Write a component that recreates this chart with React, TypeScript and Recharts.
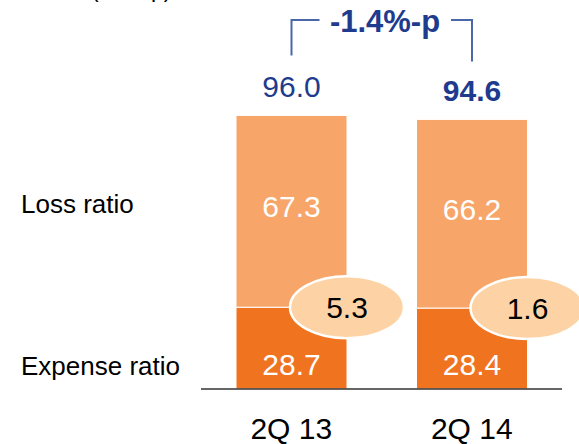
import { BarChart, Bar, XAxis, YAxis, LabelList } from 'recharts'

const quarters = ['2Q 13', '2Q 14']
const expenseRatio = [28.7, 28.4]
const lossRatio = [67.3, 66.2]
const otherEffect = [5.3, 1.6]
const combinedRatio = [96.0, 94.6]
const changeLabel = '-1.4%-p'
const seriesNames = ['Expense ratio', 'Loss ratio']
const unitLabel = '(in %-p)'

const BLUE = '#1f3b8e'
const LINE_BLUE = '#4a67a8'
const LIGHT = '#f7a568'
const DARK = '#f0731f'
const BUBBLE = '#fdd3a5'
const FONT = "'Liberation Sans', Arial, sans-serif"

const data = quarters.map((q, i) => ({
  quarter: q,
  expense: expenseRatio[i],
  loss: lossRatio[i],
  other: otherEffect[i],
  total: combinedRatio[i],
}))

const fmt = (v: number) => v.toFixed(1)

function ExpenseLabel(props: any) {
  const { x, y, width, height, value, index } = props
  return (
    <g>
      <text x={x + width / 2} y={y + height - 14} textAnchor="middle" fill="#fff" fontSize={30}>
        {fmt(value)}
      </text>
      {index === 0 && (
        <text x={21} y={y + height - 14} fill="#000" fontSize={26}>
          {seriesNames[0]}
        </text>
      )}
    </g>
  )
}

function LossLabel(props: any) {
  const { x, y, width, height, value, index } = props
  const cy = y + height / 2
  return (
    <g>
      <text x={x + width / 2} y={cy + 6} textAnchor="middle" fill="#fff" fontSize={30}>
        {fmt(value)}
      </text>
      {index === 0 && (
        <text x={21} y={cy + 2} fill="#000" fontSize={26}>
          {seriesNames[1]}
        </text>
      )}
    </g>
  )
}

function BubbleLabel(props: any) {
  const { x, y, width, height, value } = props
  const cx = x + width
  const cy = y + height
  return (
    <g>
      <ellipse cx={cx} cy={cy} rx={57} ry={31} fill={BUBBLE} stroke="#fff" strokeWidth={2.5} />
      <text x={cx} y={cy + 11} textAnchor="middle" fill="#000" fontSize={30}>
        {fmt(value)}
      </text>
    </g>
  )
}

function TotalLabel(props: any) {
  const { x, y, width, value, index } = props
  const cx = x + width / 2
  const last = index === quarters.length - 1
  return (
    <g>
      <text
        x={cx}
        y={y - 18}
        textAnchor="middle"
        fill={BLUE}
        fontSize={30}
        fontWeight={last ? 700 : 400}
      >
        {fmt(value)}
      </text>
      {index === 0 && (
        <polyline points={`${cx},${y - 60} ${cx},20 ${cx + 28},20`} fill="none" stroke={LINE_BLUE} strokeWidth={2} />
      )}
      {last && (
        <g>
          <polyline points={`${cx - 21},20 ${cx},20 ${cx},${y - 58}`} fill="none" stroke={LINE_BLUE} strokeWidth={2} />
          <text x={cx - 87} y={32} textAnchor="middle" fill={BLUE} fontSize={31} fontWeight={700}>
            {changeLabel}
          </text>
        </g>
      )}
    </g>
  )
}

export default function App() {
  return (
    <div style={{ position: 'absolute', left: 0, top: 0, width: 579, height: 444, background: '#fff', overflow: 'hidden' }}>
      <BarChart
        width={579}
        height={444}
        data={data}
        margin={{ top: 104, right: 17, bottom: 0, left: 201 }}
        style={{ fontFamily: FONT }}
      >
        <text x={91} y={-3} fill="#000" fontSize={23}>
          {unitLabel}
        </text>
        <XAxis
          dataKey="quarter"
          height={55}
          axisLine={{ stroke: '#333', strokeWidth: 1.5 }}
          tickLine={false}
          tickMargin={23}
          tick={{ fill: '#000', fontSize: 30, fontFamily: FONT }}
        />
        <YAxis hide domain={[0, 100]} />
        <Bar dataKey="expense" stackId="a" fill={DARK} stroke="#fff" strokeWidth={1} barSize={111} isAnimationActive={false}>
          <LabelList dataKey="expense" content={ExpenseLabel} />
        </Bar>
        <Bar dataKey="loss" stackId="a" fill={LIGHT} stroke="#fff" strokeWidth={1} barSize={111} isAnimationActive={false}>
          <LabelList dataKey="loss" content={LossLabel} />
          <LabelList dataKey="other" content={BubbleLabel} />
          <LabelList dataKey="total" content={TotalLabel} />
        </Bar>
      </BarChart>
    </div>
  )
}
